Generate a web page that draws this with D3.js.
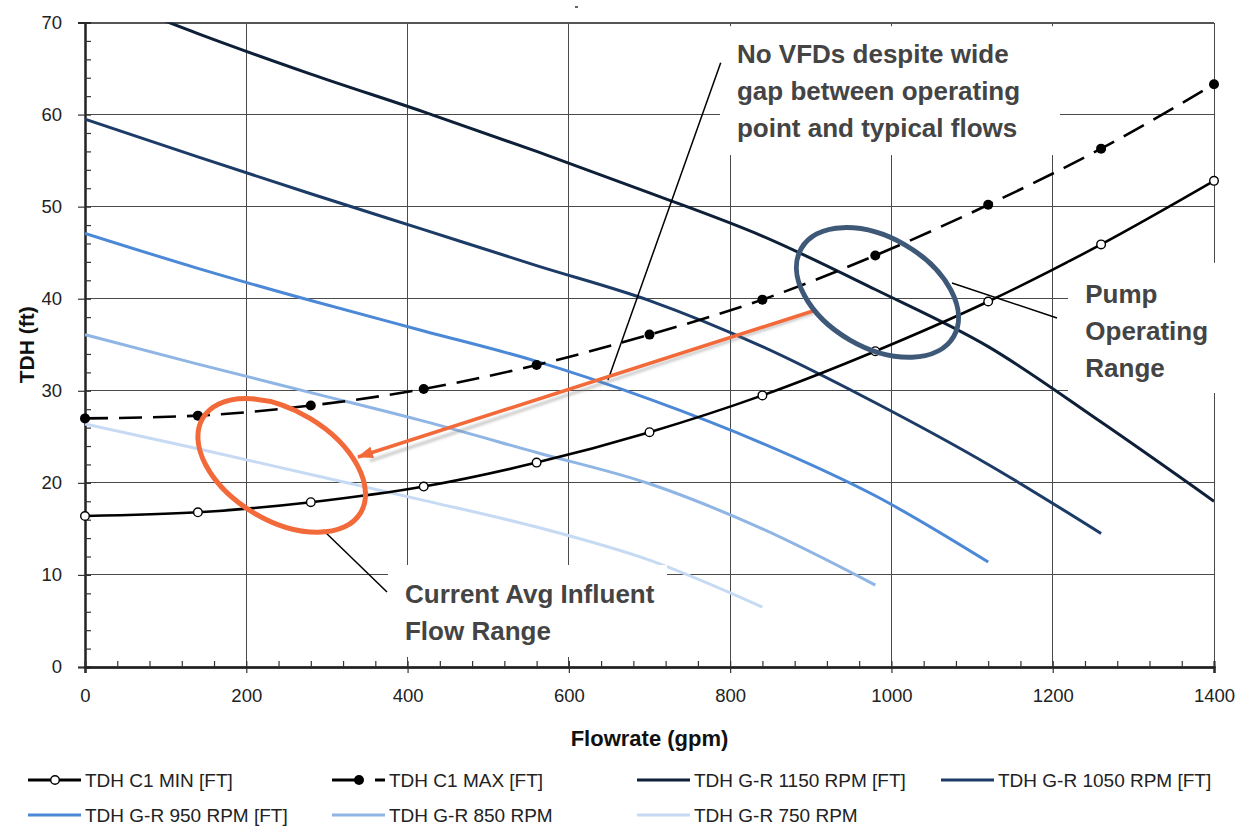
<!DOCTYPE html>
<html><head><meta charset="utf-8">
<script src="https://cdn.jsdelivr.net/npm/d3@7"></script>
<style>
body{margin:0;background:#fff}
svg{display:block}
text{font-family:"Liberation Sans",Arial,Helvetica,sans-serif}
</style>
</head><body>
<svg id="chart" width="1244" height="828"></svg>
<script>
// ---------- data ----------
const flow = [0,140,280,420,560,700,840,980,1120,1260,1400];
const c1Min = [16.4,16.8,17.9,19.6,22.2,25.5,29.5,34.3,39.7,45.9,52.8];
const c1Max = [27.0,27.3,28.4,30.2,32.8,36.1,39.9,44.7,50.2,56.3,63.3];
const rpm1150 = [73.6,68.8,64.4,60.3,56.0,51.5,46.8,41.0,34.8,26.6,18.0];
const rpm1050 = [59.5,55.4,51.4,47.5,43.6,39.8,34.8,28.7,22.0,14.5];
const rpm950  = [47.1,43.3,39.8,36.5,33.2,29.1,24.3,18.6,11.4];
const rpm850  = [36.1,32.9,29.8,26.7,23.3,19.9,15.0,8.9];
const rpm750  = [26.4,23.7,20.9,18.1,15.2,11.6,6.5];
const seriesNames = ["TDH C1 MIN [FT]","TDH C1 MAX [FT]","TDH G-R 1150 RPM [FT]","TDH G-R 1050 RPM [FT]","TDH G-R 950 RPM [FT]","TDH G-R 850 RPM","TDH G-R 750 RPM"];
const xTicks = [0,200,400,600,800,1000,1200,1400];
const yTicks = [0,10,20,30,40,50,60,70];
const xTitle = "Flowrate (gpm)";
const yTitle = "TDH (ft)";
const noteVFD = ["No VFDs despite wide","gap between operating","point and typical flows"];
const notePump = ["Pump","Operating","Range"];
const noteFlow = ["Current Avg Influent","Flow Range"];

// ---------- layout ----------
const svg = d3.select("#chart");
const L = 85, R = 1214, T = 22.5, B = 667;
const x = d3.scaleLinear().domain([0,1400]).range([L,R]);
const y = d3.scaleLinear().domain([0,70]).range([B,T]);
const gridColor = "#4a4a4a";

const defs = svg.append("defs");
defs.append("clipPath").attr("id","plotclip")
  .append("rect").attr("x",L).attr("y",T).attr("width",R-L).attr("height",B-T);
defs.append("filter").attr("id","blur").append("feGaussianBlur").attr("stdDeviation",1.2);

// gridlines
const grid = svg.append("g").attr("shape-rendering","crispEdges");
grid.selectAll(".gx").data(xTicks.slice(1)).join("line")
  .attr("x1",d=>x(d)).attr("x2",d=>x(d)).attr("y1",T).attr("y2",B)
  .attr("stroke",gridColor).attr("stroke-width",1);
grid.selectAll(".gy").data(yTicks.slice(1)).join("line")
  .attr("x1",L).attr("x2",R).attr("y1",d=>y(d)).attr("y2",d=>y(d))
  .attr("stroke",gridColor).attr("stroke-width",1);
grid.append("line").attr("x1",L).attr("x2",R).attr("y1",y(70)).attr("y2",y(70))
  .attr("stroke","#555").attr("stroke-width",2);

// axes
const yAxis = svg.append("g").attr("transform",`translate(${L},0)`)
  .call(d3.axisLeft(y).tickValues(yTicks).tickSize(7).tickPadding(16).tickFormat(d3.format("d")));
const yMinor = svg.append("g").attr("transform",`translate(${L},0)`)
  .call(d3.axisRight(y).tickValues(d3.range(0,71,2)).tickSize(6).tickFormat(""));
const xAxis = svg.append("g").attr("transform",`translate(0,${B})`)
  .call(d3.axisBottom(x).tickValues(xTicks).tickSize(6).tickPadding(12).tickFormat(d3.format("d")));
const xMinor = svg.append("g").attr("transform",`translate(0,${B})`)
  .call(d3.axisTop(x).tickValues(d3.range(0,1401,40)).tickSize(6).tickFormat(""));
[yAxis,yMinor,xAxis,xMinor].forEach(g=>{
  g.select(".domain").attr("stroke","#222").attr("stroke-width",2);
  g.selectAll(".tick line").attr("stroke","#333").attr("stroke-width",1.2);
});
xAxis.select(".domain").attr("stroke-width",2.5);
yAxis.selectAll("text").attr("font-size",18.5).attr("fill","#222");
xAxis.selectAll("text").attr("font-size",18.5).attr("fill","#222").attr("dy","0.9em");

// axis titles
svg.append("text").attr("x",(L+R)/2).attr("y",746).attr("text-anchor","middle")
  .attr("font-size",22).attr("font-weight","bold").attr("fill","#111").text(xTitle);
svg.append("text").attr("transform",`translate(34,${(T+B)/2}) rotate(-90)`).attr("text-anchor","middle")
  .attr("font-size",21).attr("font-weight","bold").attr("fill","#111").text(yTitle);

// ---------- series ----------
const pumpSeries = [
  {name:seriesNames[2], vals:rpm1150, color:"#0e1f38", w:3},
  {name:seriesNames[3], vals:rpm1050, color:"#1c3b66", w:3},
  {name:seriesNames[4], vals:rpm950,  color:"#4b88d6", w:3},
  {name:seriesNames[5], vals:rpm850,  color:"#8fb5e4", w:3},
  {name:seriesNames[6], vals:rpm750,  color:"#c6dbf3", w:3}
];
const line = d3.line().x(d=>x(d[0])).y(d=>y(d[1])).curve(d3.curveMonotoneX);
const plot = svg.append("g").attr("clip-path","url(#plotclip)");
pumpSeries.forEach(s=>{
  plot.append("path").datum(s.vals.map((v,i)=>[flow[i],v]))
    .attr("d",line).attr("fill","none").attr("stroke",s.color).attr("stroke-width",s.w)
    .attr("stroke-linejoin","round");
});
const minData = c1Min.map((v,i)=>[flow[i],v]);
const maxData = c1Max.map((v,i)=>[flow[i],v]);
const c1 = svg.append("g");
c1.append("path").datum(minData).attr("d",line).attr("fill","none")
  .attr("stroke","#000").attr("stroke-width",2.6);
c1.append("path").datum(maxData).attr("d",line).attr("fill","none")
  .attr("stroke","#000").attr("stroke-width",2.6).attr("stroke-dasharray","23,11");
c1.selectAll(".mn").data(minData).join("circle")
  .attr("cx",d=>x(d[0])).attr("cy",d=>y(d[1])).attr("r",4.3)
  .attr("fill","#fff").attr("stroke","#000").attr("stroke-width",1.4);
c1.selectAll(".mx").data(maxData).join("circle")
  .attr("cx",d=>x(d[0])).attr("cy",d=>y(d[1])).attr("r",5)
  .attr("fill","#000");

// ---------- annotations (positions in data units) ----------
const ann = svg.append("g");
function box(g0,v0,g1,v1){
  ann.append("rect").attr("x",x(g0)).attr("y",y(v0)).attr("width",x(g1)-x(g0)).attr("height",y(v1)-y(v0)).attr("fill","#fff");
}
box(787.4,69.6,1209.0,55.6);
box(1218.9,43.9,1440,29.76);
box(375.7,11.08,721.7,1.09);

function note(lines,g,v){
  const t = ann.append("text").attr("x",x(g)).attr("y",y(v))
    .attr("font-size",26).attr("font-weight","bold").attr("fill","#444");
  lines.forEach((s,i)=>t.append("tspan").attr("x",x(g)).attr("dy",i?37:0).text(s));
}
note(noteVFD,808.5,65.57);
note(notePump,1240.4,39.57);
note(noteFlow,396.8,6.98);

function leader(g0,v0,g1,v1){
  ann.append("line").attr("x1",x(g0)).attr("y1",y(v0)).attr("x2",x(g1)).attr("y2",y(v1))
    .attr("stroke","#000").attr("stroke-width",1.5);
}
leader(788.3,65.63,648.5,31.17);
leader(1075.1,41.71,1205.3,37.91);
leader(295.1,14.88,374.5,8.15);

// orange arrow
defs.append("marker").attr("id","ah").attr("markerUnits","userSpaceOnUse")
  .attr("viewBox","0 0 16 12").attr("refX",15).attr("refY",6).attr("markerWidth",16).attr("markerHeight",12)
  .attr("orient","auto").append("path").attr("d","M0,0 L16,6 L0,12 Z").attr("fill","#f26a3a");
ann.append("line").attr("x1",x(902.7)+1).attr("y1",y(38.67)+2).attr("x2",x(352)+1).attr("y2",y(22.6)+2)
  .attr("stroke","#777").attr("stroke-opacity",0.35).attr("stroke-width",3.5).attr("filter","url(#blur)");
ann.append("line").attr("x1",x(902.7)).attr("y1",y(38.67)).attr("x2",x(338.5)).attr("y2",y(22.81))
  .attr("stroke","#f26a3a").attr("stroke-width",3.5).attr("marker-end","url(#ah)");

// ellipses
function ell(g,v,rx,ry,rot,color){
  ann.append("ellipse").attr("cx",0).attr("cy",0).attr("rx",rx).attr("ry",ry)
    .attr("transform",`translate(${x(g)},${y(v)}) rotate(${rot})`)
    .attr("fill","none").attr("stroke",color).attr("stroke-width",5);
}
ell(982.7,40.68,88,55,30,"#3e5878");
ell(243.9,21.89,92,55,31,"#f26a3a");

// tiny mark at top
svg.append("line").attr("x1",575).attr("x2",578).attr("y1",7).attr("y2",7).attr("stroke","#333").attr("stroke-width",1.5);

// ---------- legend ----------
const legendItems = [
  {name:seriesNames[0], color:"#000", dash:null, marker:"open", col:0,row:0},
  {name:seriesNames[1], color:"#000", dash:"26,17", marker:"fill", col:1,row:0},
  {name:seriesNames[2], color:pumpSeries[0].color, col:2,row:0},
  {name:seriesNames[3], color:pumpSeries[1].color, col:3,row:0},
  {name:seriesNames[4], color:pumpSeries[2].color, col:0,row:1},
  {name:seriesNames[5], color:pumpSeries[3].color, col:1,row:1},
  {name:seriesNames[6], color:pumpSeries[4].color, col:2,row:1}
];
const colX = [28,332,637,941];
const rowY = [780,815];
const lg = svg.append("g");
legendItems.forEach(it=>{
  const gx = colX[it.col], gy = rowY[it.row];
  const g = lg.append("g").attr("transform",`translate(${gx},${gy})`);
  g.append("line").attr("x1",0).attr("x2",53).attr("y1",0).attr("y2",0)
    .attr("stroke",it.color).attr("stroke-width",3).attr("stroke-dasharray",it.dash);
  if(it.marker==="open") g.append("circle").attr("cx",27).attr("r",4.3).attr("fill","#fff").attr("stroke","#000").attr("stroke-width",1.4);
  if(it.marker==="fill") g.append("circle").attr("cx",27).attr("r",5).attr("fill","#000");
  g.append("text").attr("x",57).attr("y",0).attr("dy","0.35em").attr("font-size",19).attr("fill","#222").text(it.name);
});
</script>
</body></html>
